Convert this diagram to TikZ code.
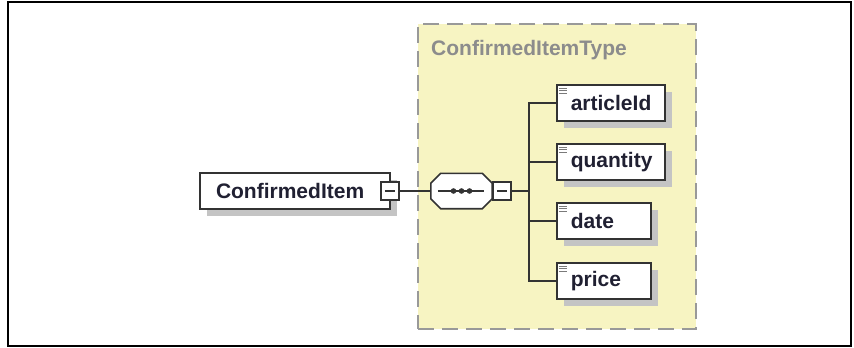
\documentclass[tikz,border=0pt]{standalone}
\usepackage{fontspec}
\setsansfont{Liberation Sans}
\usepackage{tikz}
\usetikzlibrary{positioning, calc, shadows}
\definecolor{boxline}{HTML}{333333}
\definecolor{typefill}{HTML}{F7F4C2}
\definecolor{typeline}{HTML}{999999}
\definecolor{typetext}{HTML}{8C8C8C}
\definecolor{nametext}{HTML}{202032}
\definecolor{shadowgray}{HTML}{C4C4C4}
\tikzset{
    boxshadow/.style={
        drop shadow={shadow xshift=7pt, shadow yshift=-7pt, fill=shadowgray, opacity=1}
    },
    elembox/.style={
        rectangle, draw=boxline, fill=white, line width=1.6pt,
        minimum height=36pt, inner xsep=14pt, text width=#1, align=left,
        font=\fontsize{21}{25}\selectfont\sffamily\bfseries, text=nametext,
        boxshadow
    },
    childbox/.style={
        elembox=#1,
        path picture={
            \foreach \k in {3,5.5,8}
                \draw[typeline!80!black, line width=0.8pt]
                    ([xshift=2pt, yshift=-\k pt]path picture bounding box.north west)
                    -- ++(8pt,0);
        }
    },
    minusbox/.style={
        rectangle, draw=boxline, fill=white, line width=1.4pt,
        minimum size=18pt, inner sep=0pt,
        path picture={
            \draw[boxline, line width=1.2pt]
                ([xshift=4pt]path picture bounding box.west)
                -- ([xshift=-4pt]path picture bounding box.east);
        }
    },
    seqbox/.style={
        rectangle, minimum width=61pt, minimum height=35pt, inner sep=0pt
    },
    typebox/.style={
        rectangle, draw=typeline, fill=typefill, line width=1.5pt,
        dash pattern=on 16pt off 8pt, minimum width=278pt, minimum height=305pt
    },
    conn/.style={draw=boxline, line width=1.4pt},
}
\newcommand{\seqoutline}[1]{%
    ($(#1.north west)+(10,0)$) -- ($(#1.north east)+(-10,0)$) --
    ($(#1.north east)+(0,10)$) -- ($(#1.south east)+(0,-10)$) --
    ($(#1.south east)+(-10,0)$) -- ($(#1.south west)+(10,0)$) --
    ($(#1.south west)+(0,-10)$) -- ($(#1.north west)+(0,10)$) -- cycle}
\begin{document}
\begin{tikzpicture}[x=1pt, y=-1pt]
    \useasboundingbox (0,0) rectangle (854,348);

    % Frame and complex type
    \draw[black, line width=2pt] (8,2) rectangle (851,346);
    \node[typebox] (type) at (557,176.5) {};
    \node[anchor=west, font=\fontsize{21}{25}\selectfont\sffamily\bfseries, text=typetext, inner sep=0pt]
        (typename) at (431,50) {ConfirmedItemType};

    % Element and sequence
    \node[elembox=158pt, inner xsep=16pt] (item) at (295,191) {ConfirmedItem};
    \node[minusbox] (itemminus) at ([xshift=-1pt]item.east) {};
    \node[seqbox] (seq) at (461.5,191) {};
    \fill[shadowgray, shift={(6,7)}] \seqoutline{seq};
    \draw[boxline, fill=white, line width=1.6pt] \seqoutline{seq};
    \node[minusbox, anchor=west] (seqminus) at (seq.east) {};
    \draw[conn] ([xshift=7pt]seq.west) -- ([xshift=-8pt]seq.east);
    \foreach \dx in {-8,0,8}
        \fill[boxline] ([xshift=\dx pt]seq.center) circle (2.8pt);

    % Children
    \node[childbox=80pt, anchor=west] (article) at (556,103) {articleId};
    \node[childbox=80pt, anchor=west] (quantity) at (556,162) {quantity};
    \node[childbox=66pt, anchor=west] (date) at (556,221) {date};
    \node[childbox=66pt, anchor=west] (price) at (556,281) {price};

    % Connectors
    \coordinate (bus) at (529,191);
    \draw[conn] (itemminus.east) -- (seq.west);
    \draw[conn] (seqminus.east) -- (bus);
    \foreach \n in {article,quantity,date,price}
        \draw[conn] (bus) |- (\n.west);

\end{tikzpicture}
\end{document}
